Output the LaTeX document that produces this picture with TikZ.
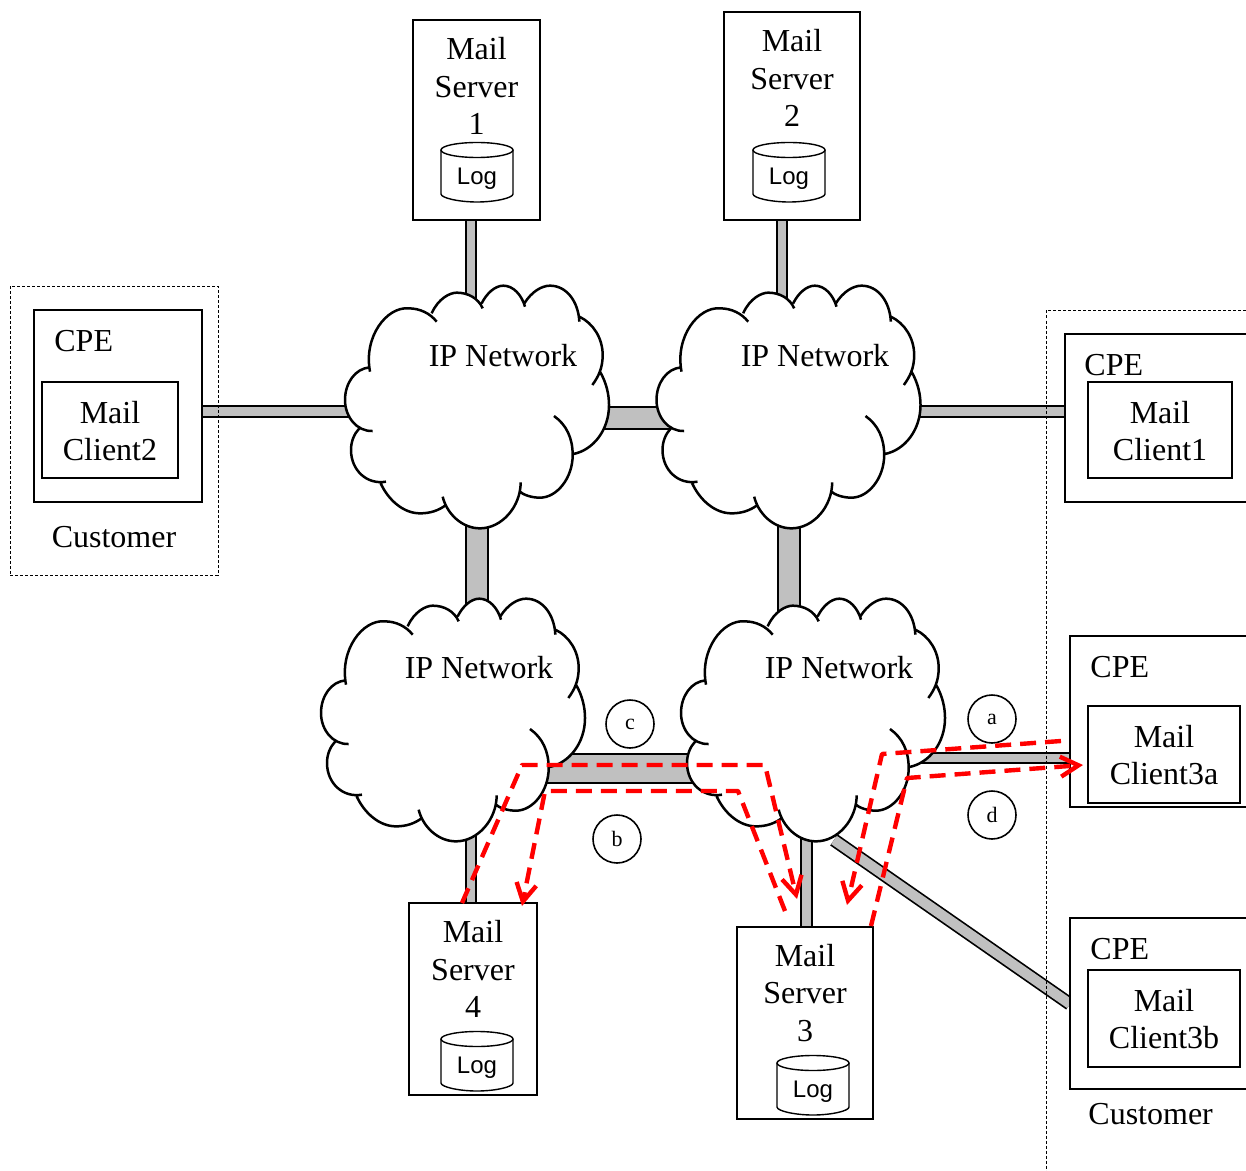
\documentclass[tikz,border=0pt]{standalone}
\usepackage{fontspec}
\setmainfont{Liberation Serif}
\setsansfont{Liberation Sans}
\usetikzlibrary{arrows.meta}
\definecolor{linkgray}{RGB}{192,192,192}
\definecolor{pathred}{RGB}{255,0,0}
\newcommand\CloudCurves[2]{\path[#1]
 (90,725) .. controls (70,620) and (140,530) .. (205,535) .. controls (240,535) and (270,550) .. (290,575) #2
 (275,550) .. controls (295,505) and (330,488) .. (350,488) .. controls (385,488) and (415,505) .. (428,535) #2
 (425,520) .. controls (440,490) and (465,467) .. (490,467) .. controls (520,467) and (545,495) .. (555,530) #2
 (553,520) .. controls (575,485) and (605,467) .. (630,467) .. controls (680,467) and (715,515) .. (718,575) #2
 (718,560) .. controls (760,580) and (788,625) .. (788,675) .. controls (788,715) and (775,740) .. (757,765) #2
 (780,725) .. controls (800,760) and (807,795) .. (807,825) .. controls (807,900) and (760,960) .. (700,972) #2
 (642,858) .. controls (680,885) and (698,925) .. (698,975) .. controls (698,1045) and (650,1103) .. (600,1103) .. controls (575,1103) and (550,1095) .. (537,1083) #2
 (542,1057) .. controls (542,1130) and (485,1195) .. (420,1195) .. controls (365,1195) and (320,1150) .. (308,1100) #2
 (318,1125) .. controls (295,1142) and (270,1150) .. (240,1150) .. controls (190,1150) and (145,1110) .. (122,1060) #2
 (138,1055) .. controls (80,1065) and (33,1020) .. (33,960) .. controls (33,935) and (42,912) .. (58,895) #2
 (98,903) .. controls (50,905) and (15,860) .. (15,810) .. controls (15,760) and (45,715) .. (90,712);}
\newcommand\CloudAt[2]{\begin{scope}[shift={(#1,#2)},x=.16667pt,y=-.16667pt]
 \CloudCurves{fill=white}{--}
 \CloudCurves{draw=black,line width=1.25pt}{}
\end{scope}}
\newcommand\LogAt[3]{%
 \node[logtext] (#1) at (#2,#3+37) {Log};
 \draw[cyl] (#2-36,#3+8) -- (#2-36,#3+52) .. controls (#2-36,#3+56) and (#2-18,#3+60) .. (#2,#3+60)
   .. controls (#2+18,#3+60) and (#2+36,#3+56) .. (#2+36,#3+52) -- (#2+36,#3+8);
 \draw[cyl] (#2,#3+8) ellipse [x radius=36,y radius=7.5];}
\tikzset{
 boxn/.style={draw=black,fill=white,line width=1pt,inner sep=0pt,outer sep=0pt},
 lbl/.style={inner sep=0pt,align=center,font=\fontsize{16}{18.6}\selectfont},
 logtext/.style={inner sep=0pt,font=\sffamily\fontsize{12}{14}\selectfont},
 cyl/.style={draw=black,line width=.7pt},
 tag/.style={circle,draw=black,fill=white,line width=.8pt,minimum size=24pt,inner sep=0pt,font=\fontsize{11}{12}\selectfont},
 linkthin/.style={draw=black,line width=1pt,double=linkgray,double distance=4.4pt},
 linkdiag/.style={draw=black,line width=.85pt,double=linkgray,double distance=5pt},
 linkmid/.style={draw=black,line width=1pt,double=linkgray,double distance=10pt},
 linkwide/.style={draw=black,line width=1pt,double=linkgray,double distance=13.5pt},
 custline/.style={draw=black,line width=.4pt,dash pattern=on 1.5pt off 1pt},
 redpath/.style={draw=pathred,line width=2.2pt,dash pattern=on 8pt off 4.5pt,line join=round},
 redarrow/.style={redpath,-{Straight Barb[length=9pt,width=10pt,line width=2.2pt]}}
}
\begin{document}
\begin{tikzpicture}[x=.5pt,y=-.5pt]
\clip (0,0) rectangle (1246,1171);
% anchors of the clouds
\coordinate (c1) at (477,407);
\coordinate (c2) at (789,407);
\coordinate (c3) at (453,720);
\coordinate (c4) at (812,720);
% link end points
\coordinate (l1b) at (471,220); \coordinate (l2b) at (782,220);
\coordinate (l9b) at (471,903); \coordinate (l10b) at (806.5,927);
\coordinate (l3b) at (202,411.5); \coordinate (l7b) at (1065,411.5);
\coordinate (l11b) at (1070,758); \coordinate (l12b) at (1070,1004);
\coordinate (l12a) at (834,840);
\draw[linkthin] (l1b) -- (l1b |- c1);
\draw[linkthin] (l2b) -- (l2b |- c2);
\draw[linkthin] (l3b) -- (l3b -| c1);
\draw[linkthin] (l7b) -- (l7b -| c2);
\draw[linkmid] ([yshift=-5.5pt]c1) -- ([yshift=-5.5pt]c2);
\draw[linkmid] (c1) -- (c1 |- c3);
\draw[linkmid] (c2) -- (c2 |- c4);
\draw[linkwide] ([yshift=-24pt]c3) -- ([yshift=-24pt]c3 -| c4);
\draw[linkthin] (l9b) -- (l9b |- c3);
\draw[linkthin] (l10b) -- (l10b |- c4);
\draw[linkthin] (l11b) -- (l11b -| c4);
\draw[linkdiag] (l12a) -- (l12b);
% clouds
\CloudAt{340}{130}
\CloudAt{651.5}{130}
\CloudAt{316}{443}
\CloudAt{676}{443}
\node[lbl] (c1t) at (503,356) {IP Network};
\node[lbl] (c2t) at (815,356) {IP Network};
\node[lbl] (c3t) at (479,668) {IP Network};
\node[lbl] (c4t) at (839,668) {IP Network};
% customer regions
\node[draw=black,line width=.4pt,dash pattern=on 1.5pt off 1pt,minimum width=104pt,minimum height=144.5pt,inner sep=0pt] (cust2) at (114,430.5) {};
\coordinate (custTL) at (1046.5,310);
\coordinate (custTR) at (1246,310);
\coordinate (custBL) at (1046.5,1171);
\draw[custline] (custTR) -- (custTL) -- (custBL);
% mail servers
\node[boxn,minimum width=63.5pt,minimum height=100pt] (ms1) at (476.5,120) {};
\node[lbl] (ms1t) at (476.5,86) {Mail\\Server\\1};
\LogAt{log1}{477}{142}
\node[boxn,minimum width=68pt,minimum height=104pt] (ms2) at (792,116) {};
\node[lbl] (ms2t) at (792,78) {Mail\\Server\\2};
\LogAt{log2}{789}{142}
\node[boxn,minimum width=64pt,minimum height=96pt] (ms4) at (473,999) {};
\node[lbl] (ms4t) at (473,969) {Mail\\Server\\4};
\LogAt{log4}{477}{1031}
\node[boxn,minimum width=68pt,minimum height=96pt] (ms3) at (805,1023) {};
\node[lbl] (ms3t) at (805,993) {Mail\\Server\\3};
\LogAt{log3}{813}{1055}
% CPE left
\node[boxn,minimum width=84pt,minimum height=96pt] (cpe2) at (118,406) {};
\node[lbl,anchor=west] (cpe2t) at (54,341) {CPE};
\node[boxn,minimum width=68pt,minimum height=48pt] (cl2) at (110,430) {};
\node[lbl] (cl2t) at (110,431) {Mail\\Client2};
\node[lbl] (cust2t) at (114,537) {Customer};
% CPE 1
\node[boxn,minimum width=100pt,minimum height=84pt] (cpe1) at (1165,418) {};
\node[lbl,anchor=west] (cpe1t) at (1084,365) {CPE};
\node[boxn,minimum width=72pt,minimum height=48pt] (cl1) at (1160,430) {};
\node[lbl] (cl1t) at (1160,431) {Mail\\Client1};
% CPE 3a
\node[boxn,minimum width=100pt,minimum height=85.5pt] (cpe3a) at (1170,721.5) {};
\node[lbl,anchor=west] (cpe3at) at (1090,667) {CPE};
\node[boxn,minimum width=76pt,minimum height=48.5pt] (cl3a) at (1164,754.5) {};
\node[lbl] (cl3at) at (1164,755) {Mail\\Client3a};
% CPE 3b
\node[boxn,minimum width=100pt,minimum height=85.5pt] (cpe3b) at (1170,1003.5) {};
\node[lbl,anchor=west] (cpe3bt) at (1090,949) {CPE};
\node[boxn,minimum width=76pt,minimum height=48.5pt] (cl3b) at (1164,1018.5) {};
\node[lbl] (cl3bt) at (1164,1019) {Mail\\Client3b};
\node[lbl,anchor=west] (cust1t) at (1088,1114) {Customer};
% tags
\node[tag] (ta) at (992,719) {\raisebox{-1pt}{a}};
\node[tag] (tb) at (617,839) {b};
\node[tag] (tc) at (630,724) {\raisebox{-1pt}{c}};
\node[tag] (td) at (992,815) {d};
% red flows
\coordinate (r1a) at (462,903); \coordinate (r1b) at (522,765); \coordinate (r1c) at (765,765); \coordinate (r1d) at (797,899);
\coordinate (r2a) at (785,911); \coordinate (r2b) at (738,791); \coordinate (r2c) at (545,791); \coordinate (r2d) at (522,906);
\coordinate (r3a) at (1061,741); \coordinate (r3b) at (882,754); \coordinate (r3c) at (847,905);
\coordinate (r4a) at (871,926); \coordinate (r4b) at (907,778); \coordinate (r4c) at (1083,765);
\draw[redarrow] (r1a) -- (r1b) -- (r1c) -- (r1d);
\draw[redarrow] (r2a) -- (r2b) -- (r2c) -- (r2d);
\draw[redarrow] (r3a) -- (r3b) -- (r3c);
\draw[redarrow] (r4a) -- (r4b) -- (r4c);
\end{tikzpicture}
\end{document}
